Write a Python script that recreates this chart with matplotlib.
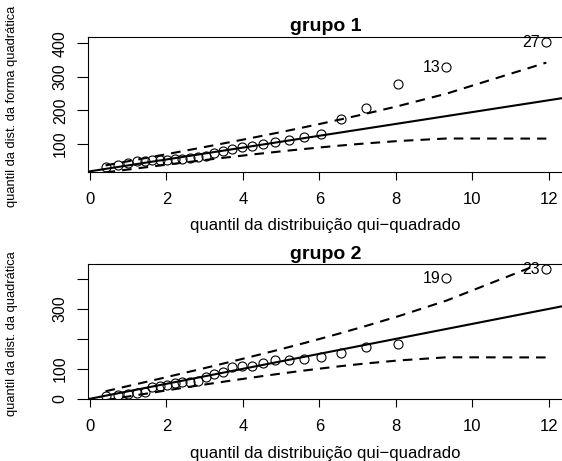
import matplotlib
matplotlib.use("Agg")
import matplotlib.pyplot as plt

plt.rcParams['font.family'] = ['Liberation Sans', 'DejaVu Sans']

# quantis teoricos qui-quadrado (gl = 4), iguais nos dois grupos
q_chi = [0.407, 0.739, 0.994, 1.219, 1.428, 1.629, 1.825, 2.020, 2.214, 2.411,
         2.610, 2.815, 3.025, 3.244, 3.472, 3.712, 3.965, 4.236, 4.528, 4.845,
         5.195, 5.588, 6.037, 6.566, 7.214, 8.062, 9.32, 11.93]

# grupo 1
d1 = [32.5, 37.5, 42.5, 49, 50, 51, 52, 53, 54, 56, 57, 62, 64, 72, 80, 85,
      90, 94, 101, 105, 111, 122, 130, 174, 208, 278, 329, 403]
sup1 = [36.3, 43.2, 48.5, 53.3, 57.6, 61.9, 66.0, 70.1, 74.2, 78.4, 82.7,
        87.1, 91.6, 96.4, 101.4, 106.6, 112.3, 118.3, 124.9, 132.2, 140.3,
        149.6, 160.5, 173.6, 190.2, 213.1, 250.0, 342.5]
inf1 = [15.5, 20.2, 23.9, 27.1, 30.2, 33.1, 35.8, 38.7, 41.4, 44.2, 46.9,
        49.7, 52.6, 55.6, 58.6, 61.8, 65.1, 68.7, 72.3, 76.2, 80.5, 85.0,
        90.1, 95.6, 101.8, 108.9, 116.4, 116.1]
reta1 = (18.7, 17.65)  # intercepto, inclinacao
rot1 = {26: "13", 27: "27"}

# grupo 2
d2 = [11, 12, 15, 21, 24, 39, 44, 47, 54, 56, 57, 58, 74, 82, 91, 106, 108,
      111, 119, 130, 131, 133, 141, 152, 172, 182, 402, 432]
sup2 = [25.3, 35.1, 42.7, 49.3, 55.5, 61.4, 67.2, 73.1, 79.0, 84.9, 90.9,
        97.1, 103.5, 110.3, 117.4, 124.8, 132.8, 141.4, 150.8, 161.0, 172.6,
        185.7, 201.1, 219.7, 243.3, 275.7, 327.9, 459.0]
inf2 = [-4.3, 2.5, 7.7, 12.3, 16.5, 20.6, 24.6, 28.5, 32.4, 36.3, 40.3, 44.3,
        48.3, 52.5, 56.8, 61.4, 66.0, 71.0, 76.2, 81.8, 87.8, 94.3, 101.3,
        109.3, 118.1, 128.1, 138.7, 138.2]
reta2 = (0.3, 25.0)
rot2 = {26: "19", 27: "23"}

xticks = [0, 2, 4, 6, 8, 10, 12]
yticks1 = [100, 200, 300, 400]
ylabs1 = ["100", "200", "300", "400"]
yticks2 = [0, 100, 200, 300, 400]
ylabs2 = ["0", "100", "", "300", ""]

W, H = 562, 461
fig = plt.figure(figsize=(W / 100, H / 100), dpi=100)


def painel(top_px, bot_px, y, sup, inf, reta, rot, ylim, yt, yl, titulo, ylab):
    ax = fig.add_axes([88 / W, 1 - bot_px / H, (563 - 88) / W, (bot_px - top_px) / H])
    ax.plot(q_chi, y, 'o', mfc='none', mec='black', ms=6.5, mew=0.8)
    ax.axline((0, reta[0]), slope=reta[1], color='black', lw=1.5)
    ax.plot(q_chi, sup, color='black', lw=1.5, ls=(0, (4.6, 3.4)))
    ax.plot(q_chi, inf, color='black', lw=1.5, ls=(0, (4.6, 3.4)))
    for i, s in rot.items():
        ax.annotate(s, (q_chi[i], y[i]), xytext=(-4.5, 0), textcoords='offset points',
                    ha='right', va='center', fontsize=11.5)
    ax.set_xlim(-0.052, 12.366)
    ax.set_ylim(*ylim)
    ax.set_xticks(xticks)
    ax.set_yticks(yt)
    ax.set_yticklabels(yl, rotation=90, va='center')
    ax.tick_params(axis='x', length=5.5, width=0.8, pad=9, labelsize=12)
    ax.tick_params(axis='y', length=8, width=0.8, pad=6.5, labelsize=11.5)
    for sp in ax.spines.values():
        sp.set_linewidth(0.8)
    ax.set_title(titulo, fontweight='bold', fontsize=14, pad=4)
    ax.set_xlabel("quantil da distribuição qui\u2212quadrado", fontsize=12, labelpad=8)
    fig.text(12 / W, 1 - (top_px + bot_px + 4) / 2 / H, ylab, rotation=90,
             ha='center', va='center', fontsize=9.3)
    return ax


painel(37, 172, d1, sup1, inf1, reta1, rot1, (16.6, 418.8), yticks1, ylabs1,
       "grupo 1", "quantil da dist. da forma quadrática")
painel(264.3, 399.3, d2, sup2, inf2, reta2, rot2, (-1.5, 449), yticks2, ylabs2,
       "grupo 2", "quantil da dist. da quadrática")

fig.savefig("out.png", dpi=100)
